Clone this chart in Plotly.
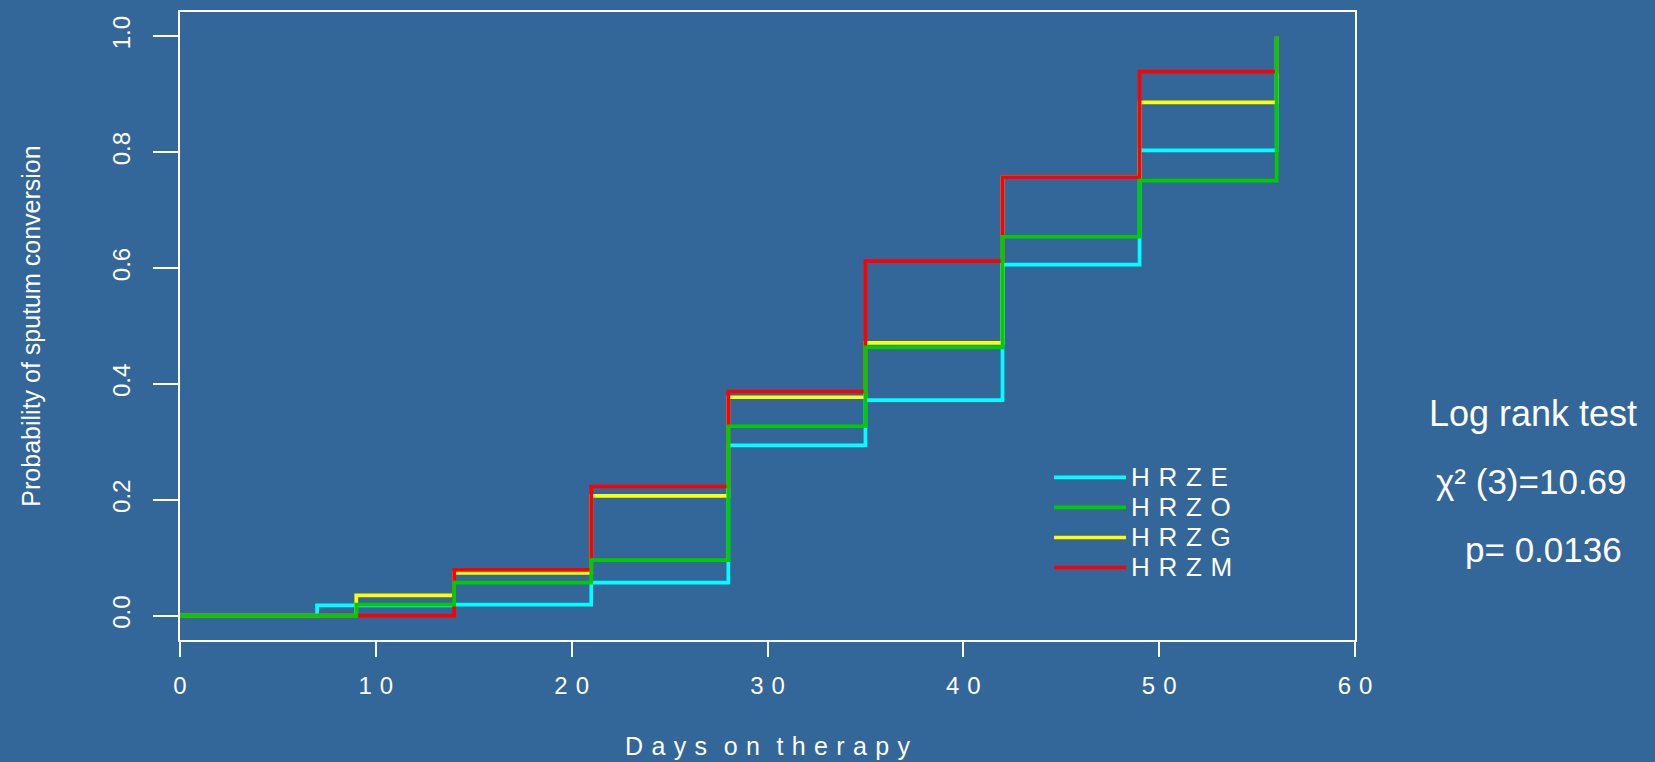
import plotly.graph_objects as go

# Days on therapy at which the step curves change
days = [0, 7, 9, 14, 21, 28, 35, 42, 49, 56]

# Cumulative probability of sputum conversion for each regimen
hrze = [0.0, 0.018, 0.018, 0.019, 0.057, 0.294, 0.372, 0.606, 0.803, 1.0]
hrzo = [0.0, 0.0, 0.019, 0.057, 0.096, 0.327, 0.463, 0.654, 0.751, 1.0]
hrzg = [0.0, 0.0, 0.035, 0.074, 0.207, 0.377, 0.471, 0.757, 0.886, 1.0]
hrzm = [0.0, 0.0, 0.0, 0.079, 0.223, 0.387, 0.612, 0.757, 0.939, 1.0]

series_names = ["H R Z E", "H R Z O", "H R Z G", "H R Z M"]
x_tick_vals = [0, 10, 20, 30, 40, 50, 60]
x_tick_text = ["0", "1 0", "2 0", "3 0", "4 0", "5 0", "6 0"]
y_tick_vals = [0.0, 0.2, 0.4, 0.6, 0.8, 1.0]
y_tick_text = ["0.0", "0.2", "0.4", "0.6", "0.8", "1.0"]

SP = "\u2004"
BG = "#336699"
FONT = "Liberation Sans, Arial, sans-serif"


def spaced(s):
    return s.replace(" ", SP)


def legend_label(s):
    return '<span style="font-size:26px">' + spaced(s) + "</span>"


fig = go.Figure()

# drawing order: cyan, yellow, red, green (green on top)
specs = [
    (hrze, series_names[0], "#00FFFF", 1),
    (hrzg, series_names[2], "#FFFF00", 3),
    (hrzm, series_names[3], "#FF0000", 4),
    (hrzo, series_names[1], "#00CD00", 2),
]
for vals, name, color, rank in specs:
    fig.add_trace(go.Scatter(
        x=days, y=vals, mode="lines", line_shape="hv",
        line=dict(color=color, width=3.7),
        name=legend_label(name), legendrank=rank,
        hoverinfo="x+y+name",
    ))

fig.update_layout(
    width=1655, height=762,
    paper_bgcolor=BG, plot_bgcolor=BG,
    margin=dict(l=180, r=300, t=12, b=122, autoexpand=False),
    font=dict(family=FONT, color="white", size=24),
    showlegend=True,
    legend=dict(
        x=0.7396, y=0.2908, xanchor="left", yanchor="top",
        bgcolor="rgba(0,0,0,0)", borderwidth=0,
        font=dict(family=FONT, color="white", size=20.8),
        itemwidth=72, tracegroupgap=0,
    ),
    xaxis=dict(
        range=[0, 60], tickvals=x_tick_vals,
        ticktext=[spaced(t) for t in x_tick_text],
        ticks="outside", ticklen=15, tickwidth=1.6, tickcolor="white",
        showline=True, linecolor="white", linewidth=1.6, mirror=True,
        showgrid=False, zeroline=False, automargin=False,
        tickfont=dict(size=24, color="white", family=FONT),
        ticklabelstandoff=8,
        title=dict(text=spaced("D a y s  o n  t h e r a p y"),
                   font=dict(size=25, color="white", family=FONT),
                   standoff=40),
    ),
    yaxis=dict(
        range=[-0.0419, 1.0419], tickvals=y_tick_vals, ticktext=y_tick_text,
        ticks="outside", ticklen=25, tickwidth=1.6, tickcolor="white",
        showline=True, linecolor="white", linewidth=1.6, mirror=True,
        showgrid=False, zeroline=False, tickangle=-90, automargin=False,
        tickfont=dict(size=24, color="white", family=FONT),
        ticklabelstandoff=14,
        title=dict(text="Probability of sputum conversion",
                   font=dict(size=25, color="white", family=FONT),
                   standoff=60),
    ),
    annotations=[
        dict(text="Log rank test", xref="paper", yref="paper",
             x=1.1517, y=0.3608, xanchor="center", yanchor="middle",
             showarrow=False, font=dict(size=36, color="white", family=FONT)),
        dict(text="χ² (3)=10.69", xref="paper", yref="paper",
             x=1.1504, y=0.2526, xanchor="center", yanchor="middle",
             showarrow=False, font=dict(size=35, color="white", family=FONT)),
        dict(text="p= 0.0136", xref="paper", yref="paper",
             x=1.1606, y=0.1443, xanchor="center", yanchor="middle",
             showarrow=False, font=dict(size=35, color="white", family=FONT)),
    ],
)

fig.write_html(
    "out.html",
    config={"displayModeBar": False},
    post_script="document.body.style.margin='0';document.body.style.padding='0';",
)
